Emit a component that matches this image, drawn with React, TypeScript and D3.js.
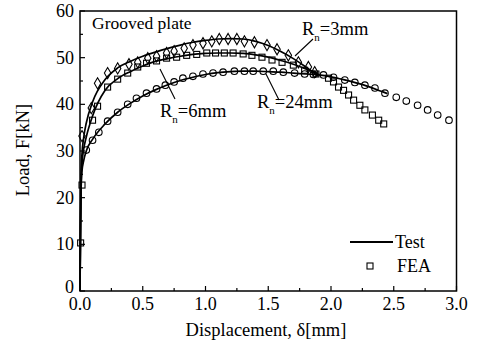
import { useEffect, useRef } from 'react';
import * as d3 from 'd3';

type Pt = [number, number];

// Test curves (solid lines)
const test3: Pt[] = [
  [0, 0], [0.004, 14], [0.008, 24], [0.015, 29], [0.03, 33], [0.05, 36], [0.1, 40.5], [0.2, 45.3], [0.3, 47.8],
  [0.4, 49.2], [0.5, 50.3], [0.6, 51.2], [0.7, 52], [0.8, 52.7], [0.9, 53.3], [1.0, 53.7], [1.1, 54],
  [1.2, 54.1], [1.3, 54], [1.4, 53.5], [1.5, 52.6], [1.6, 51.3], [1.7, 49.8], [1.8, 48], [1.9, 46],
];
const test6: Pt[] = [
  [0, 0], [0.004, 13], [0.008, 22], [0.015, 27], [0.03, 30.5], [0.05, 33], [0.1, 37.5], [0.2, 43], [0.3, 45.5],
  [0.4, 47], [0.5, 48.2], [0.6, 49.2], [0.7, 49.8], [0.8, 50.3], [0.9, 50.7], [1.0, 50.9], [1.1, 51],
  [1.2, 51], [1.3, 50.9], [1.4, 50.6], [1.5, 50.1], [1.6, 49.4], [1.7, 48.6], [1.8, 47.6], [1.9, 46.5],
];
const test24: Pt[] = [
  [0, 0], [0.004, 12], [0.008, 21], [0.015, 25.5], [0.03, 28], [0.05, 30], [0.1, 32.5], [0.2, 35.8], [0.3, 38.3],
  [0.4, 40.2], [0.5, 41.8], [0.6, 43.1], [0.7, 44.2], [0.8, 45.1], [0.9, 45.8], [1.0, 46.4], [1.1, 46.8],
  [1.2, 47], [1.3, 47.1], [1.4, 47.1], [1.5, 47], [1.6, 46.9], [1.7, 46.7], [1.8, 46.5], [1.9, 46.3],
  [2.0, 45.9], [2.1, 45.3], [2.2, 44.6], [2.3, 43.8], [2.4, 42.8], [2.45, 42.3],
];

// FEA points (markers)
const fea3: Pt[] = [
  [0.016, 33.2], [0.09, 39.2], [0.14, 44.5], [0.22, 46.7], [0.3, 47.7], [0.39, 48.6], [0.46, 49], [0.54, 49.9],
  [0.61, 50.3], [0.69, 51], [0.75, 51.4], [0.83, 52], [0.9, 52.7], [0.98, 53.1], [1.05, 53.5], [1.11, 54],
  [1.18, 54], [1.25, 54], [1.31, 53.5], [1.39, 53.3], [1.49, 52.7], [1.57, 51.8], [1.66, 50.5], [1.74, 49],
  [1.82, 48], [1.87, 46.9],
];
const fea6: Pt[] = [
  [0.005, 10.3], [0.016, 22.7], [0.1, 36.6], [0.14, 39.6], [0.22, 43.7], [0.3, 45.4], [0.38, 46.7], [0.46, 48],
  [0.53, 48.8], [0.61, 49.3], [0.69, 49.9], [0.77, 50.1], [0.85, 50.5], [0.93, 50.7], [1.01, 51], [1.08, 51],
  [1.15, 51], [1.22, 51], [1.3, 50.8], [1.37, 50.5], [1.45, 50.1], [1.53, 49.5], [1.61, 49], [1.7, 48.4],
  [1.79, 47.3], [1.88, 46.5], [1.98, 45.6], [2.02, 44.8], [2.06, 43.7], [2.1, 43], [2.14, 42], [2.18, 40.9],
  [2.23, 39.8], [2.27, 38.8], [2.33, 37.7], [2.38, 36.6], [2.42, 35.8],
];
const fea24: Pt[] = [
  [0.05, 30.2], [0.1, 32.3], [0.15, 34], [0.22, 36.4], [0.3, 38.3], [0.38, 40], [0.45, 41.3], [0.53, 42.4],
  [0.61, 43.3], [0.68, 44.1], [0.75, 44.8], [0.82, 45.6], [0.9, 46], [0.98, 46.5], [1.06, 46.7], [1.14, 46.9],
  [1.23, 47.1], [1.31, 47.1], [1.38, 47.1], [1.46, 47.1], [1.54, 47.1], [1.62, 46.9], [1.71, 46.7], [1.79, 46.5],
  [1.86, 46.4], [1.94, 46.3], [2.02, 45.8], [2.11, 45.2], [2.19, 44.7], [2.27, 44.1], [2.35, 43.5], [2.43, 42.4],
  [2.52, 41.5], [2.6, 40.7], [2.69, 39.8], [2.77, 38.8], [2.85, 37.7], [2.94, 36.6],
];

const xTicks = [0, 0.5, 1.0, 1.5, 2.0, 2.5, 3.0];
const yTicks = [0, 10, 20, 30, 40, 50, 60];

const W = 478;
const H = 354;
const FONT = "'Liberation Serif', 'Times New Roman', serif";

export default function App() {
  const ref = useRef<SVGSVGElement>(null);

  useEffect(() => {
    if (!ref.current) return;
    const svg = d3.select(ref.current);
    svg.selectAll('*').remove();

    const left = 80, right = 456.5, top = 11, bottom = 291;
    const x = d3.scaleLinear().domain([0, 3]).range([left, right]);
    const y = d3.scaleLinear().domain([0, 60]).range([bottom, top]);

    svg.append('rect').attr('width', W).attr('height', H).attr('fill', '#fff');

    // frame
    svg.append('rect')
      .attr('x', left).attr('y', top)
      .attr('width', right - left).attr('height', bottom - top)
      .attr('fill', 'none').attr('stroke', '#000').attr('stroke-width', 1.5);

    // inward ticks
    d3.range(0, 3.001, 0.25).forEach((v, i) => {
      const len = i % 2 === 0 ? 5 : 3;
      svg.append('line').attr('x1', x(v)).attr('x2', x(v)).attr('y1', bottom).attr('y2', bottom - len)
        .attr('stroke', '#000').attr('stroke-width', 1.2);
    });
    d3.range(0, 60.001, 5).forEach((v, i) => {
      const len = i % 2 === 0 ? 5 : 3;
      svg.append('line').attr('x1', left).attr('x2', left + len).attr('y1', y(v)).attr('y2', y(v))
        .attr('stroke', '#000').attr('stroke-width', 1.2);
    });

    svg.append('g').selectAll('text').data(xTicks).join('text')
      .attr('x', (d) => x(d)).attr('y', bottom + 19)
      .attr('text-anchor', 'middle').style('font-size', '18px')
      .text((d) => d.toFixed(1));
    svg.append('g').selectAll('text').data(yTicks).join('text')
      .attr('x', left - 6).attr('y', (d) => y(d) + (d === 0 ? 2 : 6))
      .attr('text-anchor', 'end').style('font-size', '18px')
      .text((d) => String(d));

    svg.append('text').attr('x', 266).attr('y', 336)
      .attr('text-anchor', 'middle').style('font-size', '18.5px')
      .text('Displacement, δ[mm]');
    svg.append('text').attr('transform', `translate(29,150) rotate(-90)`)
      .attr('text-anchor', 'middle').style('font-size', '18.5px')
      .text('Load, F[kN]');

    const line = d3.line<Pt>().x((d) => x(d[0])).y((d) => y(d[1])).curve(d3.curveMonotoneX);
    [test3, test6, test24].forEach((s) => {
      svg.append('path').attr('d', line(s)).attr('fill', 'none').attr('stroke', '#000').attr('stroke-width', 1.7);
    });

    const mk = { fill: 'none', stroke: '#000', sw: 1.1 };
    svg.append('g').selectAll('path').data(fea3).join('path')
      .attr('d', d3.symbol(d3.symbolDiamond, 36)())
      .attr('transform', (d) => `translate(${x(d[0])},${y(d[1])})`)
      .attr('fill', mk.fill).attr('stroke', mk.stroke).attr('stroke-width', mk.sw);
    svg.append('g').selectAll('rect').data(fea6).join('rect')
      .attr('x', (d) => x(d[0]) - 3).attr('y', (d) => y(d[1]) - 3)
      .attr('width', 6).attr('height', 6)
      .attr('fill', mk.fill).attr('stroke', mk.stroke).attr('stroke-width', mk.sw);
    svg.append('g').selectAll('circle').data(fea24).join('circle')
      .attr('cx', (d) => x(d[0])).attr('cy', (d) => y(d[1])).attr('r', 3.3)
      .attr('fill', mk.fill).attr('stroke', mk.stroke).attr('stroke-width', mk.sw);

    // annotations
    const ann = svg.append('g').style('font-size', '18.5px');
    ann.append('text').attr('x', 92).attr('y', 29).style('font-size', '17.5px').text('Grooved plate');

    const label = (tx: number, ty: number, val: string) => {
      const t = ann.append('text').attr('x', tx).attr('y', ty);
      t.append('tspan').text('R');
      t.append('tspan').style('font-size', '11px').attr('dy', 6).text('n');
      t.append('tspan').attr('dy', -6).text(val);
    };
    label(302, 35, '=3mm');
    label(160, 117, '=6mm');
    label(257, 108, '=24mm');

    const pointers: [number, number, number, number][] = [
      [313, 39, 295, 56],
      [175, 99, 160, 69],
      [279, 100, 266, 74],
    ];
    pointers.forEach(([x1, y1, x2, y2]) => {
      svg.append('line').attr('x1', x1).attr('y1', y1).attr('x2', x2).attr('y2', y2)
        .attr('stroke', '#000').attr('stroke-width', 1.1);
    });

    // legend
    svg.append('line').attr('x1', 350).attr('x2', 393).attr('y1', 242).attr('y2', 242)
      .attr('stroke', '#000').attr('stroke-width', 2);
    svg.append('text').attr('x', 395).attr('y', 248).style('font-size', '18px').text('Test');
    svg.append('rect').attr('x', 367).attr('y', 263).attr('width', 6).attr('height', 6)
      .attr('fill', 'none').attr('stroke', '#000').attr('stroke-width', 1.1);
    svg.append('text').attr('x', 397).attr('y', 272).style('font-size', '18px').text('FEA');
  }, []);

  return (
    <svg
      ref={ref}
      width={W}
      height={H}
      style={{ position: 'absolute', left: 0, top: 0, fontFamily: FONT }}
      role="img"
      aria-label="Load-displacement curves"
    />
  );
}
